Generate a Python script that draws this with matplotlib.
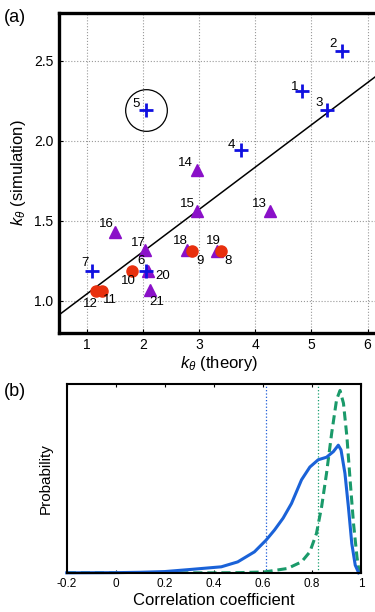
import numpy as np
from matplotlib import pyplot as plt

plt.rcParams['font.family'] = ['Liberation Sans', 'DejaVu Sans']
plt.rcParams['mathtext.fontset'] = 'custom'
plt.rcParams['mathtext.rm'] = 'Liberation Sans'
plt.rcParams['mathtext.it'] = 'Liberation Sans:italic'

# (a) k_theta theory vs simulation
cross_ids = [1, 2, 3, 4, 5, 6, 7]
cross_x = [4.83, 5.55, 5.28, 3.74, 2.06, 2.06, 1.09]
cross_y = [2.31, 2.56, 2.19, 1.94, 2.19, 1.19, 1.19]

circle_ids = [8, 9, 10, 11, 12]
circle_x = [3.39, 2.88, 1.81, 1.26, 1.17]
circle_y = [1.31, 1.31, 1.19, 1.06, 1.06]

tri_ids = [13, 14, 15, 16, 17, 18, 19, 20, 21]
tri_x = [4.26, 2.97, 2.97, 1.50, 2.04, 2.79, 3.31, 2.08, 2.13]
tri_y = [1.56, 1.82, 1.56, 1.43, 1.32, 1.32, 1.31, 1.19, 1.07]

fit_slope = 0.264
fit_intercept = 0.78
highlight_id = 5

# (b) correlation coefficient distributions
blue_r = [-0.2, 0.0, 0.1, 0.2, 0.3, 0.43, 0.497, 0.565, 0.613, 0.647, 0.682,
          0.716, 0.757, 0.791, 0.825, 0.859, 0.887, 0.907, 0.918, 0.934,
          0.948, 0.962, 0.976, 0.99]
blue_p = [0.0, 0.001, 0.003, 0.007, 0.018, 0.033, 0.06, 0.115, 0.18, 0.235,
          0.30, 0.38, 0.51, 0.58, 0.62, 0.634, 0.665, 0.70, 0.674, 0.546,
          0.363, 0.16, 0.042, 0.0]
green_r = [-0.2, 0.4, 0.5, 0.607, 0.70, 0.757, 0.791, 0.818, 0.839, 0.859,
           0.88, 0.90, 0.914, 0.928, 0.942, 0.955, 0.969, 0.983, 0.992]
green_p = [0.0, 0.0, 0.001, 0.005, 0.024, 0.06, 0.115, 0.216, 0.363, 0.546,
           0.766, 0.95, 1.0, 0.93, 0.747, 0.51, 0.27, 0.088, 0.0]
blue_mean = 0.613
green_mean = 0.825

# label offsets (points) for the numbers in (a)
label_offset = {1: (-5.5, 3.4), 2: (-6.5, 5.5), 3: (-5.5, 5.3), 4: (-6.7, 4.1),
                5: (-7.2, 4.8), 6: (-3.6, 7.2), 7: (-5.3, 5.3), 8: (5.3, -6.7),
                9: (5.3, -6.7), 10: (-2.9, -7.9), 11: (6.0, -6.2),
                12: (-4.3, -9.1), 13: (-7.7, 5.3), 14: (-8.9, 4.8),
                15: (-7.2, 5.3), 16: (-6.5, 6.0), 17: (-5.3, 4.8),
                18: (-5.3, 6.0), 19: (-2.4, 7.7), 20: (10.8, -4.3),
                21: (4.3, -8.9)}

fig = plt.figure(figsize=(3.75, 6.12), dpi=100)

ax = fig.add_axes([0.157, 0.456, 0.853, 0.523])
ax.set_xlim(0.5, 6.2)
ax.set_ylim(0.8, 2.8)
ax.set_xticks([1, 2, 3, 4, 5, 6])
ax.set_yticks([1.0, 1.5, 2.0, 2.5])
ax.set_yticklabels(['1.0', '1.5', '2.0', '2.5'])
ax.grid(True, color='#999999', linestyle=':', linewidth=0.8)
ax.set_axisbelow(True)
for s in ax.spines.values():
    s.set_linewidth(2.4)
ax.tick_params(direction='in', length=3, width=0.8, labelsize=10, pad=4)

xx = np.array(ax.get_xlim())
ax.plot(xx, fit_slope * xx + fit_intercept, color='black', lw=1.1, zorder=2)

ax.plot(tri_x, tri_y, '^', color='#8a10c8', ms=8, mec='#8a10c8', zorder=3)
ax.plot(circle_x, circle_y, 'o', color='#e8300e', ms=8, zorder=4)
ax.plot(cross_x, cross_y, '+', color='#1010e0', ms=10, mew=2.0, zorder=5)

hi = cross_ids.index(highlight_id)
ax.plot(cross_x[hi], cross_y[hi], 'o', mfc='none', mec='black', ms=30,
        mew=0.9, zorder=5)

for ids, xs, ys in [(cross_ids, cross_x, cross_y),
                    (circle_ids, circle_x, circle_y),
                    (tri_ids, tri_x, tri_y)]:
    for i, x, y in zip(ids, xs, ys):
        ax.annotate(str(i), (x, y), xytext=label_offset[i],
                    textcoords='offset points', ha='center', va='center',
                    fontsize=9.5, zorder=6)

ax.set_xlabel(r'$k_\theta$ (theory)', fontsize=12, labelpad=1)
ax.set_ylabel(r'$k_\theta$ (simulation)', fontsize=12, labelpad=4)
fig.text(0.01, 0.985, '(a)', fontsize=13, va='top')

bx = fig.add_axes([0.178, 0.064, 0.785, 0.309])
bx.set_xlim(-0.2, 1.0)
bx.set_ylim(0, 1.037)
bx.set_xticks([-0.2, 0, 0.2, 0.4, 0.6, 0.8, 1])
bx.set_xticklabels(['-0.2', '0', '0.2', '0.4', '0.6', '0.8', '1'])
bx.set_yticks([])
for s in bx.spines.values():
    s.set_linewidth(1.5)
bx.tick_params(axis='x', direction='in', length=2, width=0.8, labelsize=8.5,
               top=True, pad=4)

bx.axvline(blue_mean, color='#1a5ad8', ls=':', lw=0.9)
bx.axvline(green_mean, color='#18a070', ls=':', lw=0.9)
bx.plot(green_r, green_p, color='#1a9a6a', ls='--', lw=2.2, dashes=(3, 1.6))
bx.plot(blue_r, blue_p, color='#1a62d8', lw=2.2, clip_on=False)

bx.set_xlabel('Correlation coefficient', fontsize=12, labelpad=2)
bx.set_ylabel('Probability', fontsize=11, labelpad=10)
fig.text(0.01, 0.375, '(b)', fontsize=13, va='top')

plt.savefig('out.png', dpi=100)
